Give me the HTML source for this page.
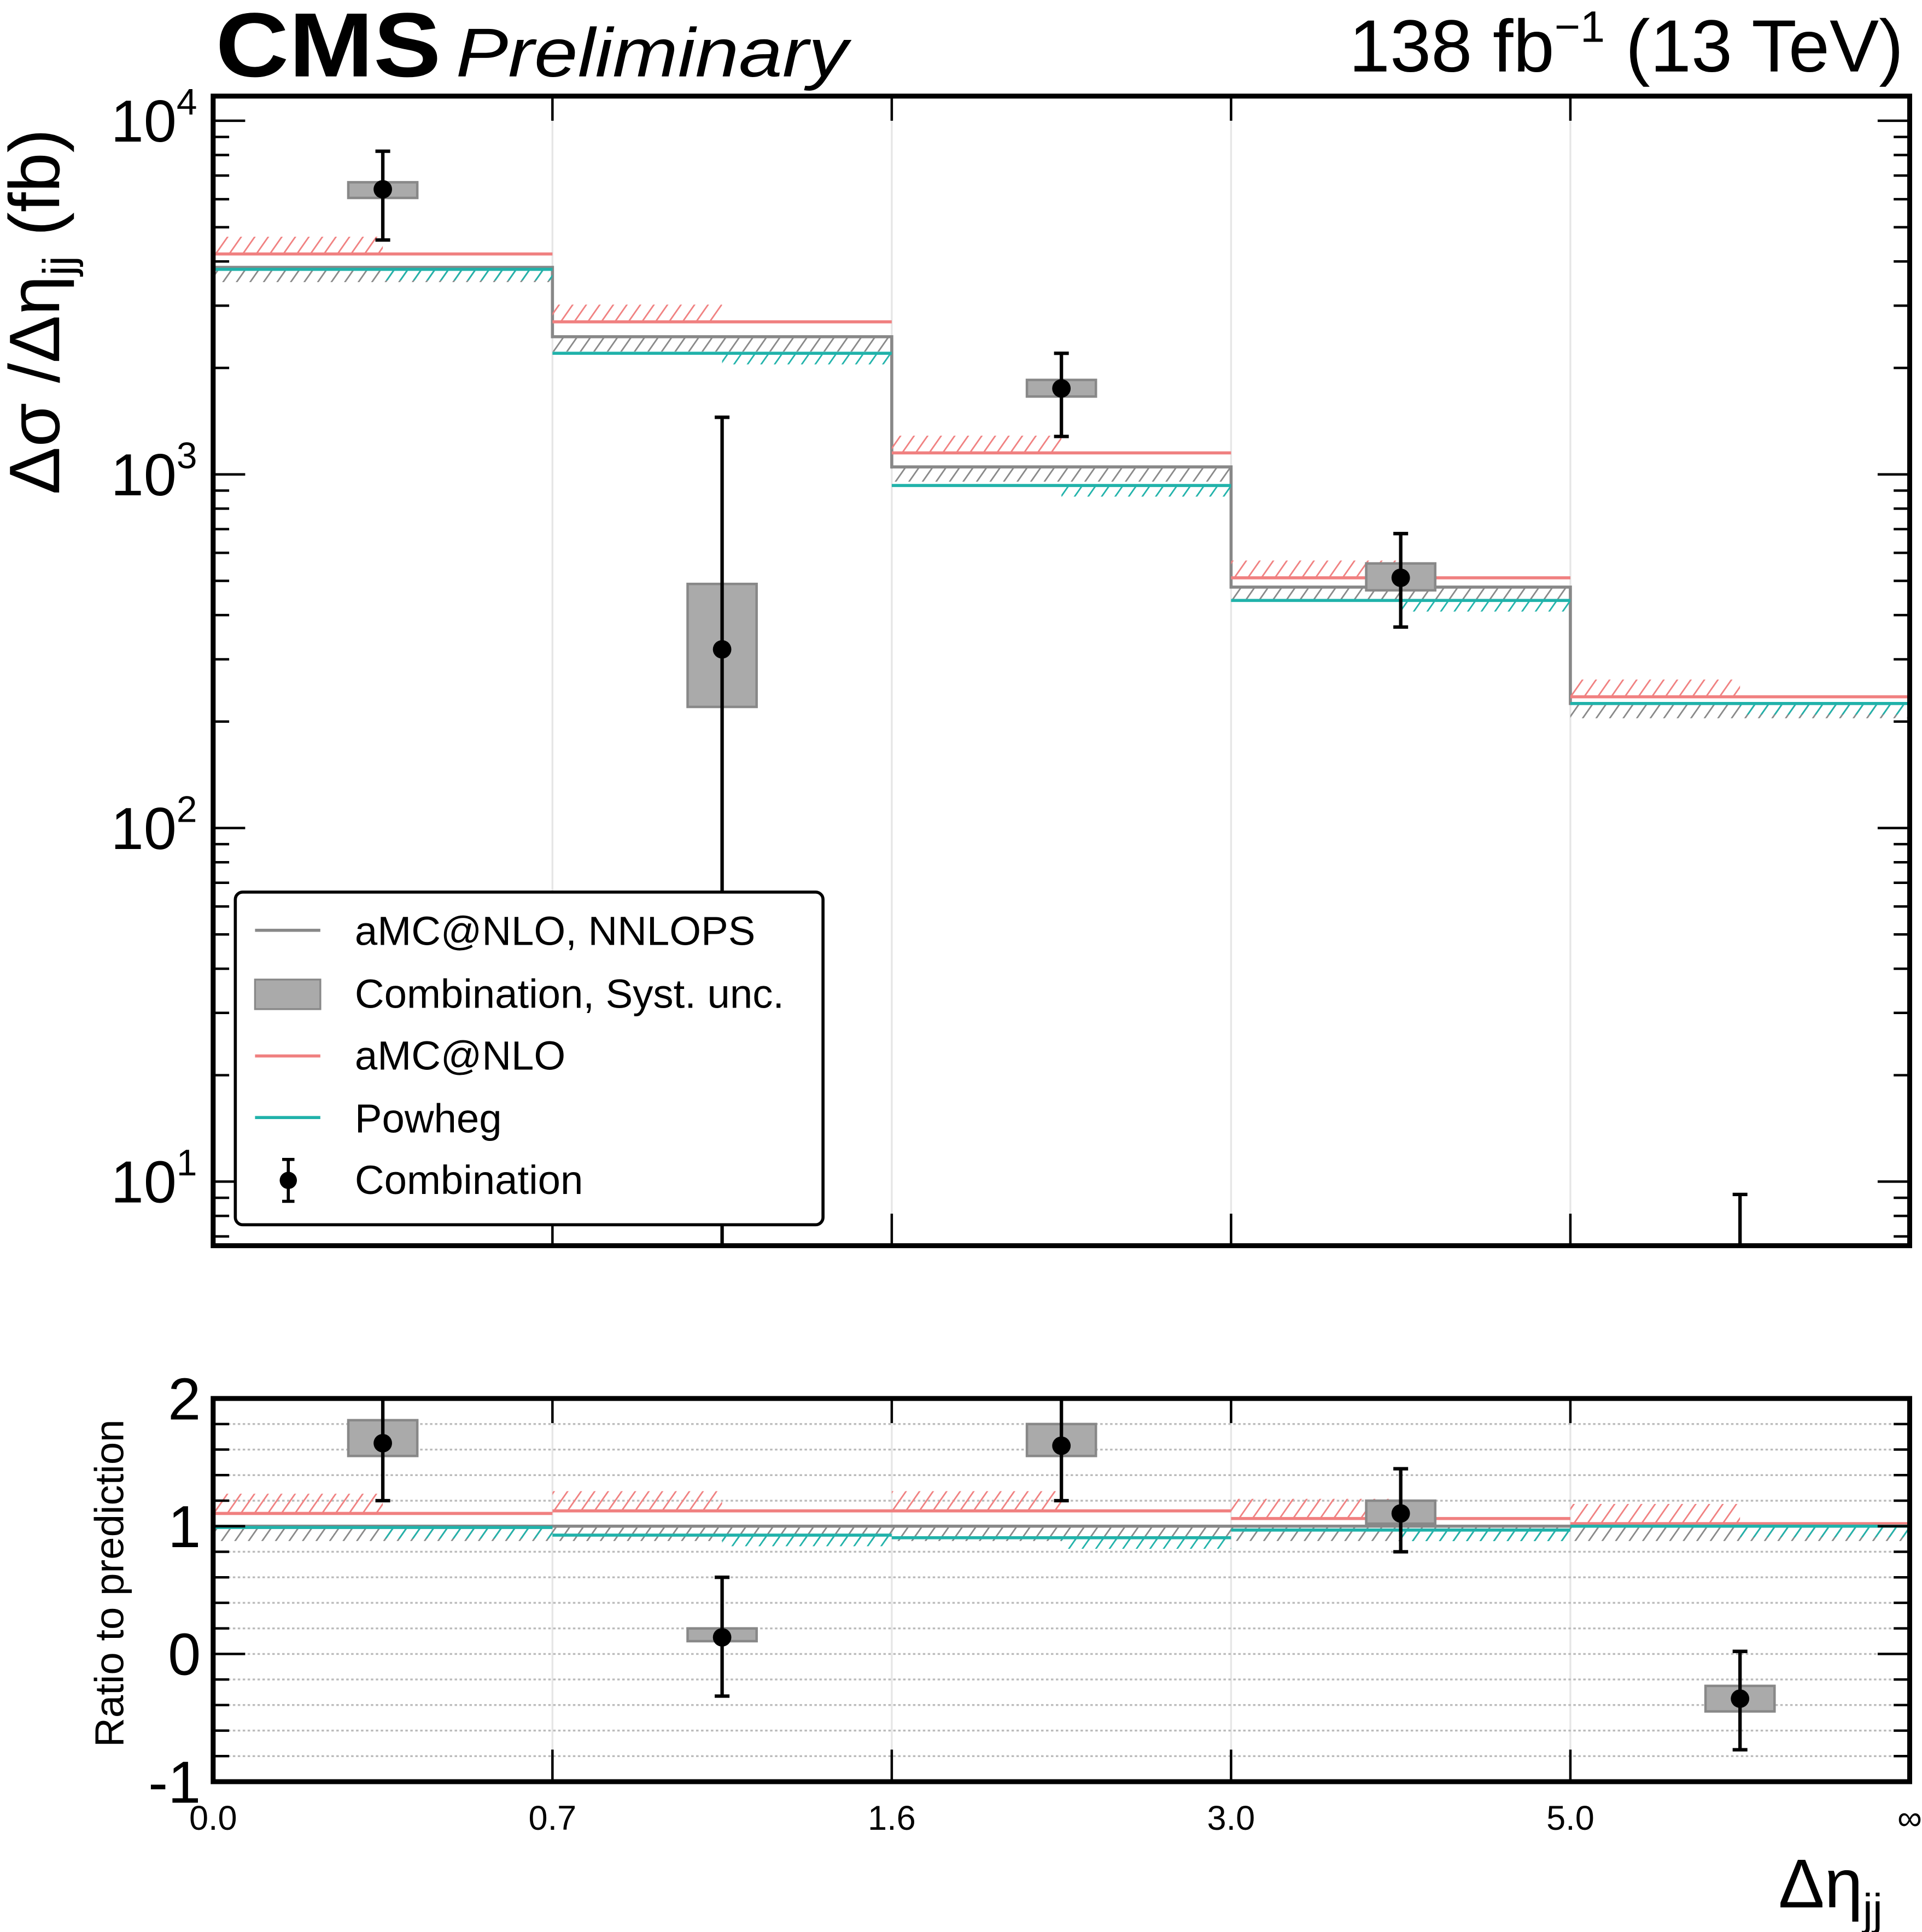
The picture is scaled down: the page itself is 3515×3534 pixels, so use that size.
<!DOCTYPE html>
<html><head><meta charset="utf-8"><style>
html,body{margin:0;padding:0;background:#fff;}
svg{display:block;font-family:"Liberation Sans",sans-serif;}
</style></head><body>
<svg id="c" width="3515" height="3534" viewBox="0 0 1560 1568" preserveAspectRatio="none" xmlns="http://www.w3.org/2000/svg">
<defs>
<pattern id="hr" patternUnits="userSpaceOnUse" width="9" height="9" patternTransform="rotate(35)"><line x1="0" y1="0" x2="0" y2="9" stroke="#f08080" stroke-width="2.5"/></pattern>
<pattern id="hg" patternUnits="userSpaceOnUse" width="9" height="9" patternTransform="rotate(35)"><line x1="0" y1="0" x2="0" y2="9" stroke="#888" stroke-width="2.5"/></pattern>
<pattern id="ht" patternUnits="userSpaceOnUse" width="9" height="9" patternTransform="rotate(35)"><line x1="0" y1="0" x2="0" y2="9" stroke="#20b2aa" stroke-width="2.5"/></pattern>
<clipPath id="cpTop"><rect x="173" y="78" width="1377" height="933"/></clipPath>
<clipPath id="cpRat"><rect x="173" y="1135" width="1377" height="311"/></clipPath>
</defs>
<g id="topg" clip-path="url(#cpTop)"></g>
<g id="ratg" clip-path="url(#cpRat)"></g>
<g id="axesg"></g>
<text x="175" y="62" font-size="74" font-weight="bold" textLength="183" lengthAdjust="spacingAndGlyphs">CMS</text>
<text x="370" y="62" font-size="56" font-style="italic" textLength="318" lengthAdjust="spacingAndGlyphs">Preliminary</text>
<text x="1545" y="58" font-size="60" text-anchor="end">138 fb<tspan dy="-24" font-size="36">−1</tspan><tspan dy="24"> (13 TeV)</tspan></text>
<text transform="translate(48,253) rotate(-90)" font-size="58" text-anchor="middle">Δσ /Δη<tspan dy="12" font-size="36">jj</tspan><tspan dy="-12"> (fb)</tspan></text>
<text transform="translate(100,1285) rotate(-90)" font-size="33" text-anchor="middle">Ratio to prediction</text>
<text x="1528" y="1548" font-size="56" text-anchor="end">Δη<tspan dy="14" font-size="36">jj</tspan></text>
<g>
<rect x="191" y="724" width="477" height="270" rx="6" fill="#fff" stroke="#000" stroke-width="2.5"/>
<line x1="207" x2="260" y1="755" y2="755" stroke="#888" stroke-width="2.5"/>
<text x="288" y="767" font-size="33">aMC@NLO, NNLOPS</text>
<rect x="207" y="795" width="53" height="24" fill="#aaa" stroke="#888" stroke-width="1.5"/>
<text x="288" y="818" font-size="33">Combination, Syst. unc.</text>
<line x1="207" x2="260" y1="857" y2="857" stroke="#f08080" stroke-width="2.5"/>
<text x="288" y="868" font-size="33">aMC@NLO</text>
<line x1="207" x2="260" y1="907" y2="907" stroke="#20b2aa" stroke-width="2.5"/>
<text x="288" y="919" font-size="33">Powheg</text>
<line x1="234" x2="234" y1="941" y2="975" stroke="#000" stroke-width="2.5"/>
<line x1="229" x2="239" y1="941" y2="941" stroke="#000" stroke-width="2.5"/>
<line x1="229" x2="239" y1="975" y2="975" stroke="#000" stroke-width="2.5"/>
<circle cx="234" cy="958" r="7"/>
<text x="288" y="969" font-size="33">Combination</text>
</g>
</svg>
<script>
const edges = ["0.0","0.7","1.6","3.0","5.0","∞"];
const nnlops = [3850, 2450, 1050, 480, 225];
const amcnlo = [4200, 2700, 1150, 510, 235];
const powheg = [3800, 2200, 930, 440, 225];
const dataVal = [6400, 320, 1750, 510, 5];
const dataErrLo = [4600, 5, 1280, 370, 1];
const dataErrHi = [8200, 1450, 2200, 680, 9.2];
const systLo = [6050, 220, 1660, 470, 3];
const systHi = [6700, 490, 1850, 560, 6];
const ratNnlops = [1.0, 1.0, 1.0, 1.0, 1.0];
const ratAmc = [1.1, 1.12, 1.12, 1.06, 1.02];
const ratPow = [0.99, 0.93, 0.91, 0.97, 1.0];
const ratVal = [1.65, 0.13, 1.63, 1.1, -0.35];
const ratErrLo = [1.2, -0.33, 1.2, 0.8, -0.75];
const ratErrHi = [2.4, 0.6, 2.4, 1.45, 0.02];
const ratSystLo = [1.55, 0.1, 1.55, 1.02, -0.45];
const ratSystHi = [1.83, 0.2, 1.8, 1.2, -0.25];
const yTicksTop = [10, 100, 1000, 10000];
const yTicksRat = [2, 1, 0, -1];

const NS="http://www.w3.org/2000/svg";
const L=173,R=1550,T=78,B=1011,RT=1135,RB=1446;
const nb=edges.length-1;
function xe(i){return L+(R-L)*i/nb;}
function xc(i){return (xe(i)+xe(i+1))/2;}
function yLog(v){return 98+(4-Math.log10(v))*287;}
function yR(r){return RT+(2-r)*(RB-RT)/3;}
function mk(parent,tag,attrs){const e=document.createElementNS(NS,tag);for(const k in attrs)e.setAttribute(k,attrs[k]);parent.appendChild(e);return e;}
const gTop=document.getElementById('topg'),gRat=document.getElementById('ratg'),gAx=document.getElementById('axesg');

for(let i=1;i<nb;i++){
  let e=mk(gTop,'line',{x1:xe(i),x2:xe(i),y1:T,y2:B,stroke:'#e6e6e6','stroke-width':1.5});
  
  
  e=mk(gRat,'line',{x1:xe(i),x2:xe(i),y1:RT,y2:RB,stroke:'#e6e6e6','stroke-width':1.5});
  
  
}
for(let k=0;k<=15;k++){
  const r=-1+k*0.2; if(r<=-0.99||r>=1.99) continue;
  const e=mk(gRat,'line',{x1:L,x2:R,y1:yR(r),y2:yR(r),stroke:'#bbb','stroke-width':1.5,'stroke-dasharray':'2,2'});
  
  
}
function drawModel(g,vals,yf,col,pat,name,mode,hpx,stepped){
  let d='';
  for(let i=0;i<nb;i++){
    const y=yf(vals[i]);
    d+=((i===0||!stepped)?'M':'L')+xe(i)+','+y+' L'+xe(i+1)+','+y+' ';
    let x0=xe(i),w=xe(i+1)-xe(i),y0=y;
    if(mode==='left'){w=w/2;y0=y-hpx;}
    else if(mode==='right'){x0=xc(i);w=w/2;}
    const h=mk(g,'rect',{x:x0,y:y0,width:w,height:hpx,fill:'url(#'+pat+')'});
    
    
  }
  const p=mk(g,'path',{d:d,fill:'none',stroke:col,'stroke-width':2.5});
  
  
}
drawModel(gTop,nnlops,yLog,'#888','hg','nnlops','full',12,true);
drawModel(gTop,amcnlo,yLog,'#f08080','hr','amcnlo','left',14,false);
drawModel(gTop,powheg,yLog,'#20b2aa','ht','powheg','right',9,false);
drawModel(gRat,ratNnlops,yR,'#888','hg','ratio-nnlops','full',12,false);
drawModel(gRat,ratAmc,yR,'#f08080','hr','ratio-amcnlo','left',16,false);
drawModel(gRat,ratPow,yR,'#20b2aa','ht','ratio-powheg','right',9,false);

function drawData(g,v,lo,hi,sl,sh,yf,pre){
  for(let i=0;i<nb;i++){
    const x=xc(i);
    const s=mk(g,'rect',{x:x-28,y:yf(sh[i]),width:56,height:yf(sl[i])-yf(sh[i]),fill:'#aaa',stroke:'#888','stroke-width':2});
    
    
    const e=mk(g,'line',{x1:x,x2:x,y1:yf(hi[i]),y2:yf(lo[i]),stroke:'#000','stroke-width':2.8});
    
    
    for(const yy of [yf(hi[i]),yf(lo[i])]){
      const c=mk(g,'line',{x1:x-6,x2:x+6,y1:yy,y2:yy,stroke:'#000','stroke-width':2.8});
      
      
    }
    const m=mk(g,'circle',{cx:x,cy:yf(v[i]),r:7.5,fill:'#000'});
    
    
  }
}
drawData(gTop,dataVal,dataErrLo,dataErrHi,systLo,systHi,yLog,'');
drawData(gRat,ratVal,ratErrLo,ratErrHi,ratSystLo,ratSystHi,yR,'ratio-');

let f=mk(gAx,'rect',{x:L,y:T,width:R-L,height:B-T,fill:'none',stroke:'#000','stroke-width':4});


f=mk(gAx,'rect',{x:L,y:RT,width:R-L,height:RB-RT,fill:'none',stroke:'#000','stroke-width':4});


function tick(x1,y1,x2,y2,name){
  const t=mk(gAx,'line',{x1:x1,y1:y1,x2:x2,y2:y2,stroke:'#000','stroke-width':2});
  
  
}
for(let dec=0;dec<=4;dec++){
  for(let m=1;m<=9;m++){
    const v=m*Math.pow(10,dec); const y=yLog(v);
    if(y<T+2||y>B-2) continue;
    const len=m===1?26:13;
    tick(L,y,L+len,y,'y-tick'); tick(R,y,R-len,y,'y-tick-right');
  }
}
yTicksTop.forEach(v=>{
  const y=yLog(v),ex=Math.round(Math.log10(v));
  const t=mk(gAx,'text',{x:160,y:y+17,'font-size':48,'text-anchor':'end'});
  t.textContent='10';
  const s=mk(t,'tspan',{dy:-22,'font-size':30});
  s.textContent=ex;
  
  
});
for(let k=0;k<=15;k++){
  const r=-1+k*0.2,y=yR(r);
  const major=Math.abs(r-Math.round(r))<1e-6;
  const len=major?26:13;
  tick(L,y,L+len,y,'ratio-y-tick'); tick(R,y,R-len,y,'ratio-y-tick-right');
}
yTicksRat.forEach(r=>{
  const t=mk(gAx,'text',{x:163,y:yR(r)+17,'font-size':48,'text-anchor':'end'});
  t.textContent=r===-1?'-1':String(r);
  
  
});
for(let i=1;i<nb;i++){
  tick(xe(i),T,xe(i),T+20,'x-tick-top');tick(xe(i),B,xe(i),B-26,'x-tick');
  tick(xe(i),RT,xe(i),RT+20,'ratio-x-tick-top');tick(xe(i),RB,xe(i),RB-26,'ratio-x-tick');
}
edges.forEach((lab,i)=>{
  const t=mk(gAx,'text',{x:xe(i),y:1485,'font-size':28,'text-anchor':'middle'});
  t.textContent=lab;
  
  
});
</script>
</body></html>
